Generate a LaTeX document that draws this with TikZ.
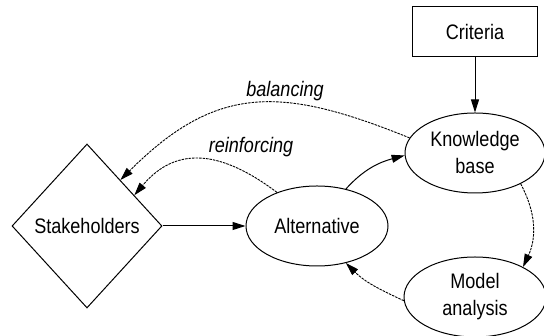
\documentclass[tikz,border=0pt]{standalone}
\usepackage{fontspec}
\setmainfont{Liberation Sans}[FakeStretch=0.86]
\usetikzlibrary{shapes,arrows.meta,positioning}

\begin{document}
\begin{tikzpicture}[x=1pt,y=1pt,->,>={Triangle[length=13pt,width=8pt]},
            line width=1pt,
            main node/.style={ellipse,inner sep=0pt,draw,align=center,
             font=\fontsize{21}{27}\selectfont,
             minimum width=142pt, minimum height=80pt},
            stake node/.style={diamond,inner sep=0pt,draw,
             font=\fontsize{21}{27}\selectfont,
             minimum width=150pt, minimum height=164pt},
            crit node/.style={rectangle,draw,font=\fontsize{21}{27}\selectfont,
             minimum width=125pt, minimum height=50pt},
            loop label/.style={font=\fontsize{21}{27}\selectfont\itshape},
            loop line/.style={dash pattern=on 2.5pt off 1pt,line width=0.9pt}]

            \useasboundingbox (0,0) rectangle (544,336);

            \node[stake node] (Stake) at (87,110) {Stakeholders};
            \node[main node] (Alt) [right=83pt of Stake] {Alternative};
            \node[main node, minimum width=140pt] (Know) at (475,183) {Knowledge\\base};
            \node[crit node] (Crit) [above=55pt of Know] {Criteria};
            \node[main node] (Model) [below=63pt of Know] {Model\\analysis};

            \node[loop label] (bal) at (285,245) {balancing};
            \node[loop label] (rein) at (251,189) {reinforcing};

            \path[color=black]
            (Crit) edge node {} (Know)
            (Stake) edge node {} (Alt)
            (Alt.52) edge[out=48,in=195] node {} (Know.182);

            \path[color=black,loop line]
            (Know.167) edge[out=158,in=45,looseness=1.2] node {} (Stake.54)
            (Alt.140) edge[out=143,in=50,looseness=1.2] node {} (Stake.33)
            (Know.-34) edge[out=-62,in=65] node {} (Model.32)
            (Model.183) edge[out=155,in=-45] node {} (Alt.-52);

\end{tikzpicture}
\end{document}
